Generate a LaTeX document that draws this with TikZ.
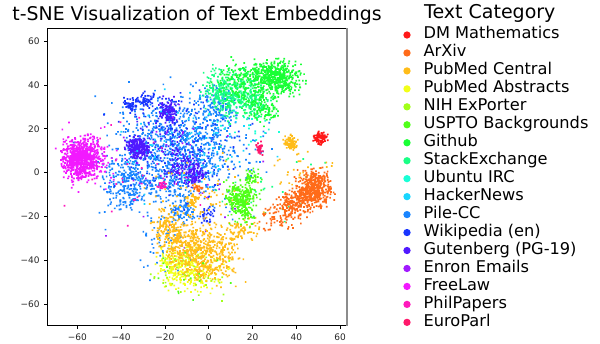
\documentclass[tikz,border=0pt]{standalone}
\usepackage{fontspec}
\setmainfont{DejaVu Sans}
\usepackage{tikz}
\usetikzlibrary{positioning}

\definecolor{c0}{rgb}{1,0.1,0.1}
\definecolor{c1}{rgb}{1,0.418,0.1}
\definecolor{c2}{rgb}{1,0.736,0.1}
\definecolor{c3}{rgb}{0.948,1,0.1}
\definecolor{c4}{rgb}{0.63,1,0.1}
\definecolor{c5}{rgb}{0.312,1,0.1}
\definecolor{c6}{rgb}{0.1,1,0.207}
\definecolor{c7}{rgb}{0.1,1,0.523}
\definecolor{c8}{rgb}{0.1,1,0.841}
\definecolor{c9}{rgb}{0.1,0.841,1}
\definecolor{c10}{rgb}{0.1,0.523,1}
\definecolor{c11}{rgb}{0.1,0.207,1}
\definecolor{c12}{rgb}{0.312,0.1,1}
\definecolor{c13}{rgb}{0.63,0.1,1}
\definecolor{c14}{rgb}{0.948,0.1,1}
\definecolor{c15}{rgb}{1,0.1,0.736}
\definecolor{c16}{rgb}{1,0.1,0.418}

\begin{document}
\begin{tikzpicture}[x=1pt,y=1pt,
    ticklab/.style={inner sep=0pt,font=\fontsize{9}{10}\selectfont,text=black!85},
    legdot/.style={circle,inner sep=0pt,minimum size=7.3pt},
    legtext/.style={inner sep=0pt,font=\fontsize{16.2}{19}\selectfont}]
  \useasboundingbox (0,0) rectangle (600,344);
  \pgfmathsetseed{17}

  % scatter, in data units
  \begin{scope}[shift={(208.7pt,171.4pt)},x=2.19pt,y=2.19pt]
    \foreach \col/\n/\cx/\cy/\sx/\sy/\ang in {
        c10/350/-24/14/9/8/0, c10/300/-4/14/7/9/0, c10/120/4/30/4/5/0,
        c10/200/-38/-4/5/5/0, c10/200/-16/-4/8/5/0, c10/80/-13/-18/3/3/0,
        c10/250/-15/8/18/14/0, c10/60/-20/-32/6/8/0, c10/30/18/8/6/6/0,
        c10/40/-40/-12/5/4/0,
        c11/50/-36/31/1.8/1.6/0, c11/50/-29/33/1.8/1.6/0, c11/90/-18/26/2.5/4/0,
        c11/30/-1/-20/1.5/2/0, c11/150/-12/10/14/12/0,
        c12/220/-32.5/11/2.3/2.2/0, c12/80/-19/28/2/3/0, c12/100/-12/2/4/4/0,
        c12/60/-6/-2/2/2/0, c12/60/-20/12/10/8/0,
        c9/70/-8/12/15/12/0, c8/40/15/25/8/6/0, c13/35/-15/0/15/15/0,
        c15/20/-21.5/-6.5/1/1/0, c15/30/-30/0/15/12/0,
        c14/700/-58/6/4/4.5/0, c14/120/-57/5/6.5/6.5/0,
        c7/380/10/36/6/5/0, c7/80/22/31/4/3/0, c7/30/20/-5/12/10/0,
        c6/450/31/43/5/3.5/0, c6/250/18/40/7/5/0, c6/80/25/28/4/3/0,
        c0/80/50.5/15.5/1.8/1.4/0, c16/35/23/11/1/1.6/0,
        c3/240/-14/-43/4.5/4.5/0, c3/100/-3/-45/5/5/0,
        c4/50/-8/-46/9/5/0,
        c2/90/37/13/1.6/1.6/0, c2/380/0/-38/6/6/0, c2/260/-12/-33/5/6/0,
        c2/100/-20/-24/3/4/0, c2/40/-8/-13/1.2/1.6/0, c2/80/14/-27/5/2.5/20,
        c2/60/-5/-10/12/8/0, c2/30/40/0/8/5/0,
        c5/280/15/-13/3.5/5/0, c5/40/20/-2/2/2/0, c5/15/-10/-47/8/5/0,
        c1/350/40/-14/7.5/3.5/37, c1/350/48/-7/3.5/4/20, c1/25/-5/-8/1.2/0.8/0}
    {
      \fill[fill=\col] \foreach \k [evaluate=\k as \pu using {\sx*(rand+rand+rand)},
                                     evaluate=\k as \pw using {\sy*(rand+rand+rand)}] in {1,...,\n}
        { ({\cx+\pu*cos(\ang)-\pw*sin(\ang)},{\cy+\pu*sin(\ang)+\pw*cos(\ang)}) rectangle +(1.7pt,1.7pt) };
    }

    % axes
    \draw[line width=0.8pt] (63.2,-70) -- (-73.5,-70) -- (-73.5,65.9) -- (63.2,65.9);
    \draw[line width=1.6pt,black!45] (63.2,65.9) -- (63.2,-70);
    \foreach \v/\t in {-60/−60,-40/−40,-20/−20,0/0,20/20,40/40,60/60}{
      \draw[line width=0.6pt] (\v,-70) -- ++(0,-3.5pt);
      \node[ticklab,anchor=north] (xt\v) at ([yshift=-7.5pt]\v,-70) {\t};
      \draw[line width=0.6pt] (-73.5,\v) -- ++(-3.5pt,0);
      \node[ticklab,anchor=east] (yt\v) at ([xshift=-8pt]-73.5,\v) {\t};
    }
  \end{scope}

  \node[anchor=base,inner sep=0pt,font=\fontsize{18.9}{22}\selectfont] (title) at (197,323.3) {t-SNE Visualization of Text Embeddings};

  % legend
  \node[anchor=base west,inner sep=0pt,font=\fontsize{19}{22}\selectfont] (legtitle) at (424,325) {Text Category};
  \foreach \lab [count=\i from 0] in {DM Mathematics,ArXiv,PubMed Central,PubMed Abstracts,
      NIH ExPorter,USPTO Backgrounds,Github,StackExchange,Ubuntu IRC,HackerNews,Pile-CC,
      Wikipedia (en),Gutenberg (PG-19),Enron Emails,FreeLaw,PhilPapers,EuroParl}{
    \node[legdot,fill=c\i] (d\i) at (407,{309-17.96*\i}) {};
    \node[legtext,base right=12.6pt of d\i,yshift=-4pt] (t\i) {\lab};
  }
\end{tikzpicture}
\end{document}
